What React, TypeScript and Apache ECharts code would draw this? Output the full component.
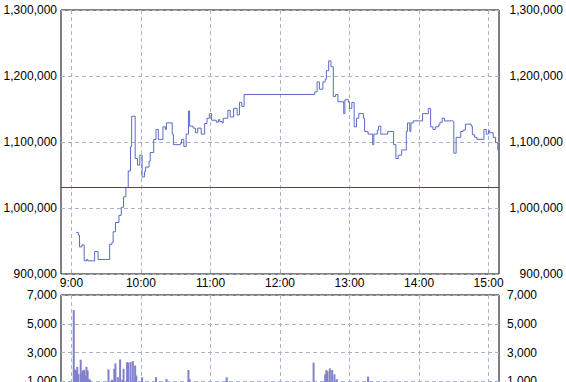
import React, { useEffect, useRef } from "react";
import * as echarts from "echarts";

// minutes after 9:00
const hourTicks = [0, 60, 120, 180, 240, 300, 360];
const hourLabels = ["9:00", "10:00", "11:00", "12:00", "13:00", "14:00", "15:00"];

const priceMinutes = [
  4, 6, 7, 9, 11, 13, 14, 20, 23, 33, 35, 36, 38, 41, 43, 45, 47, 49, 51, 52,
  55, 57, 59, 61, 63, 64, 67, 68, 71, 73, 75, 79, 81, 82, 87, 88, 94, 95, 97, 99,
  101, 102, 105, 107, 109, 112, 115, 117, 119, 121, 125, 127, 128, 130, 131, 135, 137, 140, 143, 145,
  147, 149, 210, 212, 214, 217, 219, 220, 222, 224, 226, 228, 230, 235, 236, 239, 240, 242, 244, 246,
  248, 252, 253, 256, 260, 261, 264, 265, 267, 273, 278, 280, 282, 285, 289, 290, 292, 293, 295, 303,
  308, 310, 312, 314, 317, 318, 320, 322, 329, 330, 332, 336, 338, 340, 345, 346, 348, 350, 356, 358,
  360, 361, 364, 366, 368, 369,
];
const priceValues = [
  963000, 959000, 941000, 944000, 920000, 922000, 920000, 934000, 922000, 945000, 948000, 964000, 978000, 989000, 1001000, 1017000, 1031000, 1056000, 1093000, 1139000,
  1075000, 1065000, 1080000, 1047000, 1055000, 1062000, 1071000, 1084000, 1104000, 1119000, 1104000, 1123000, 1119000, 1129000, 1112000, 1096000, 1098000, 1104000, 1093000, 1112000,
  1147000, 1124000, 1121000, 1114000, 1121000, 1112000, 1128000, 1136000, 1143000, 1133000, 1130000, 1134000, 1131000, 1129000, 1136000, 1148000, 1138000, 1151000, 1141000, 1160000,
  1154000, 1172000, 1176000, 1191000, 1180000, 1191000, 1195000, 1208000, 1223000, 1214000, 1169000, 1172000, 1161000, 1143000, 1164000, 1160000, 1151000, 1160000, 1123000, 1136000,
  1143000, 1136000, 1116000, 1112000, 1096000, 1112000, 1118000, 1124000, 1112000, 1116000, 1096000, 1075000, 1080000, 1088000, 1116000, 1129000, 1116000, 1129000, 1132000, 1143000,
  1151000, 1123000, 1119000, 1123000, 1126000, 1130000, 1136000, 1132000, 1131000, 1083000, 1107000, 1116000, 1118000, 1127000, 1124000, 1111000, 1107000, 1104000, 1119000, 1112000,
  1117000, 1114000, 1107000, 1099000, 1088000, 1088000,
];
const previousClose = 1032000;

const volMinutes = [
  2, 3, 4, 5, 6, 8, 9, 10, 11, 12, 13, 14, 15, 16, 32, 35, 37, 38, 40, 42,
  44, 45, 48, 49, 51, 53, 55, 56, 61, 73, 82, 101, 102, 134, 209, 219, 220, 221, 223, 225,
  227, 229, 256,
];
const volValues = [
  5950, 1800, 1750, 2000, 1500, 2500, 1550, 1750, 1800, 1400, 2000, 1750, 1150, 1100, 1830, 1100, 1870, 2240, 1280, 2520,
  1100, 1870, 2330, 2300, 2330, 2400, 2100, 1400, 1280, 1280, 1150, 1780, 1150, 1280, 2290, 1480, 1780, 1690, 1900, 1780,
  1480, 1140, 1320,
];

const FONT = "'Liberation Sans', Arial, sans-serif";
const GRID_COLOR = "#aab4c8";
const fmt = (v: number) => Math.round(v).toLocaleString("en-US");

export default function App() {
  const ref = useRef<HTMLDivElement>(null);
  useEffect(() => {
    if (!ref.current) return;
    const chart = echarts.init(ref.current, undefined, { renderer: "svg" });
    const dashed = { show: true, lineStyle: { color: GRID_COLOR, type: [4, 3] as any, width: 1 } };
    const xBase = (gridIndex: number, showLabel: boolean) => ({
      gridIndex,
      type: "value" as const,
      min: -9,
      max: 369,
      axisLine: { show: false },
      axisTick: { show: false, customValues: hourTicks },
      axisLabel: {
        show: showLabel,
        customValues: hourTicks,
        formatter: (v: number) => hourLabels[hourTicks.indexOf(Math.round(v))] ?? "",
        color: "#000",
        fontSize: 12,
        fontFamily: FONT,
        margin: 3,
      },
      splitLine: dashed,
    });
    const yBase = (gridIndex: number, min: number, max: number, interval: number, position: "left" | "right", split: boolean, align: "left" | "right", margin: number) => ({
      gridIndex,
      type: "value" as const,
      min,
      max,
      interval,
      position,
      axisLine: { show: false },
      axisTick: { show: false },
      axisLabel: { color: "#000", fontSize: 12, fontFamily: FONT, formatter: fmt, align, margin },
      splitLine: split ? dashed : { show: false },
    });
    chart.setOption({
      animation: false,
      backgroundColor: "#fff",
      grid: [
        { left: 61, top: 10, width: 438, height: 264, show: true, borderColor: "#000", borderWidth: 1, outerBoundsMode: "none", containLabel: false },
        { left: 61, top: 295, width: 438, height: 115, show: true, borderColor: "#000", borderWidth: 1, outerBoundsMode: "none", containLabel: false },
      ],
      xAxis: [xBase(0, true), xBase(1, false)],
      yAxis: [
        yBase(0, 900000, 1300000, 100000, "left", true, "right", 4),
        yBase(0, 900000, 1300000, 100000, "right", false, "right", 64),
        yBase(1, -1000, 7000, 2000, "left", true, "right", 4),
        yBase(1, -1000, 7000, 2000, "right", false, "left", 8),
      ],
      series: [
        {
          type: "line",
          xAxisIndex: 0,
          yAxisIndex: 0,
          step: "end",
          showSymbol: false,
          data: priceMinutes.map((t, i) => [t, priceValues[i]]),
          lineStyle: { color: "#5a6bc8", width: 1 },
          itemStyle: { color: "#5a6bc8" },
          markLine: {
            silent: true,
            symbol: ["none", "none"],
            label: { show: false },
            lineStyle: { color: "#ff0000", width: 1, type: "solid" },
            data: [{ yAxis: previousClose }],
          },
        },
        {
          type: "bar",
          xAxisIndex: 1,
          yAxisIndex: 2,
          barWidth: 2,
          data: volMinutes.map((t, i) => [t, volValues[i]]),
          itemStyle: { color: "#8080cc" },
        },
      ],
    });
    return () => chart.dispose();
  }, []);
  return <div ref={ref} style={{ position: "absolute", left: 0, top: 0, width: 566, height: 382 }} />;
}
